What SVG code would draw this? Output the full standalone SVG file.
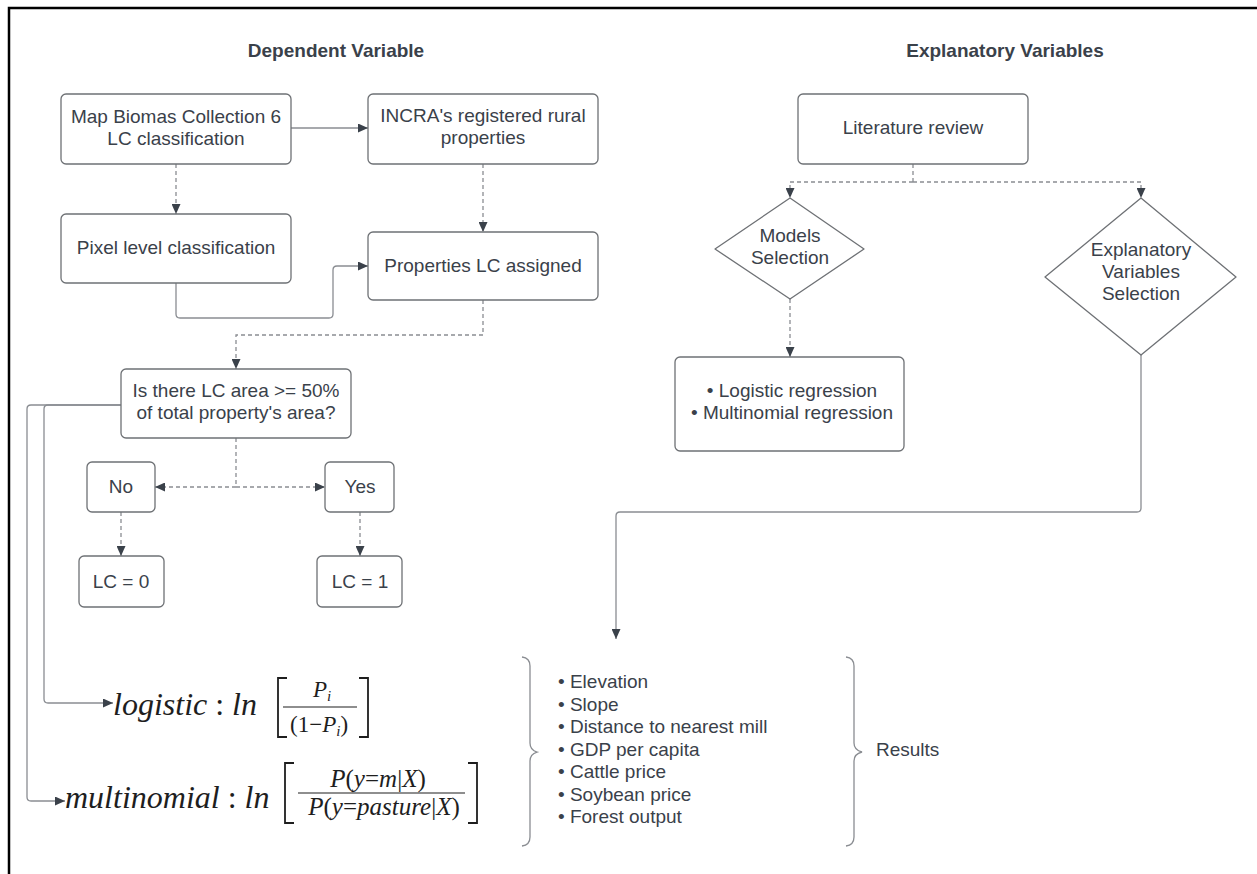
<svg xmlns="http://www.w3.org/2000/svg" width="1257" height="874" viewBox="0 0 1257 874">
<style>
.box{fill:#fff;stroke:#6e7175;stroke-width:1.3}
.t{font-family:"Liberation Sans",Arial,sans-serif;font-size:19px;fill:#3a414a}
.mid{text-anchor:middle}
.h{font-weight:bold}
.c{fill:none;stroke:#8a8d92;stroke-width:1.3}
.d{stroke-dasharray:4 3}
.a{marker-end:url(#arr)}
.m{font-family:"Liberation Serif","Times New Roman",serif;font-style:italic;fill:#1e1e1e}
.u{font-style:normal}
.br{fill:none;stroke:#1e1e1e;stroke-width:1.8}
.brace{fill:none;stroke:#8a8d92;stroke-width:1.3}
</style>
<defs>
<marker id="arr" markerWidth="11" markerHeight="9" refX="10" refY="4.5" orient="auto" markerUnits="userSpaceOnUse">
<path d="M0,0 L10,4.5 L0,9 z" fill="#3a414a"/>
</marker>
</defs>
<rect width="1257" height="874" fill="#fff"/>
<path d="M9,874 V8 H1257" fill="none" stroke="#000" stroke-width="2.5"/>

<g id="titles">
<text class="t h mid" x="336" y="57">Dependent Variable</text>
<text class="t h mid" x="1005" y="57">Explanatory Variables</text>
</g>

<g id="connectors">
<path class="c a" d="M291,128 H368"/>
<path class="c d a" d="M176,164 V214"/>
<path class="c d a" d="M483,164 V232"/>
<path class="c a" d="M176,283 V314 Q176,318 180,318 H329 Q333,318 333,314 V270 Q333,266 337,266 H368"/>
<path class="c d a" d="M483,300 V335 H236 V369"/>
<path class="c d" d="M236,438 V487"/>
<path class="c d a" d="M236,487 H155"/>
<path class="c d a" d="M236,487 H325"/>
<path class="c d a" d="M121,512 V556"/>
<path class="c d a" d="M360,512 V556"/>
<path class="c a" d="M121,405 H48 Q44,405 44,409 V699 Q44,703 48,703 H113"/>
<path class="c a" d="M121,405 H31 Q27,405 27,409 V797 Q27,801 31,801 H65"/>
<path class="c d" d="M913,164 V182"/>
<path class="c d a" d="M913,182 H790 V198"/>
<path class="c d a" d="M913,182 H1141 V198"/>
<path class="c d a" d="M790,299 V357"/>
<path class="c a" d="M1141,355 V508 Q1141,512 1137,512 H620 Q616,512 616,516 V639"/>
</g>

<g id="map-biomas">
<rect class="box" x="61" y="94" width="230" height="70" rx="5"/>
<text class="t mid" x="176" y="123">Map Biomas Collection 6</text>
<text class="t mid" x="176" y="145">LC classification</text>
</g>
<g id="incra">
<rect class="box" x="368" y="94" width="230" height="70" rx="5"/>
<text class="t mid" x="483" y="122">INCRA's registered rural</text>
<text class="t mid" x="483" y="144">properties</text>
</g>
<g id="pixel">
<rect class="box" x="61" y="214" width="230" height="69" rx="5"/>
<text class="t mid" x="176" y="254">Pixel level classification</text>
</g>
<g id="properties">
<rect class="box" x="368" y="232" width="230" height="68" rx="5"/>
<text class="t mid" x="483" y="272">Properties LC assigned</text>
</g>
<g id="question">
<rect class="box" x="121" y="369" width="230" height="69" rx="5"/>
<text class="t mid" x="236" y="397">Is there LC area &gt;= 50%</text>
<text class="t mid" x="236" y="419">of total property's area?</text>
</g>
<g id="no">
<rect class="box" x="87" y="462" width="68" height="50" rx="5"/>
<text class="t mid" x="121" y="493">No</text>
</g>
<g id="yes">
<rect class="box" x="325" y="462" width="69" height="50" rx="5"/>
<text class="t mid" x="360" y="493">Yes</text>
</g>
<g id="lc0">
<rect class="box" x="79" y="556" width="85" height="51" rx="5"/>
<text class="t mid" x="121" y="588">LC = 0</text>
</g>
<g id="lc1">
<rect class="box" x="317" y="556" width="85" height="51" rx="5"/>
<text class="t mid" x="360" y="588">LC = 1</text>
</g>

<g id="logistic-formula">
<text class="m" x="113" y="715" font-size="32">logistic <tspan class="u">:</tspan> ln</text>
<path class="br" d="M287,678 H278 V737 H287"/>
<text class="m" x="313" y="697" font-size="23">P<tspan font-size="15" dy="4">i</tspan></text>
<line x1="283" y1="707" x2="357" y2="707" stroke="#1e1e1e" stroke-width="1.2"/>
<text class="m" x="290" y="732" font-size="23"><tspan class="u">(1−</tspan>P<tspan font-size="15" dy="4">i</tspan><tspan class="u" dy="-4">)</tspan></text>
<path class="br" d="M359,678 H368 V737 H359"/>
</g>

<g id="multinomial-formula">
<text class="m" x="65" y="808" font-size="32">multinomial <tspan class="u">:</tspan> ln</text>
<path class="br" d="M294,763 H285 V823 H294"/>
<text class="m mid" x="378" y="787" font-size="25">P<tspan class="u">(</tspan>y<tspan class="u">=</tspan>m<tspan class="u">|</tspan>X<tspan class="u">)</tspan></text>
<line x1="298" y1="793" x2="465" y2="793" stroke="#1e1e1e" stroke-width="1.2"/>
<text class="m mid" x="384" y="815" font-size="25">P<tspan class="u">(</tspan>y<tspan class="u">=</tspan>pasture<tspan class="u">|</tspan>X<tspan class="u">)</tspan></text>
<path class="br" d="M468,763 H477 V823 H468"/>
</g>

<g id="literature">
<rect class="box" x="798" y="94" width="230" height="70" rx="5"/>
<text class="t mid" x="913" y="134">Literature review</text>
</g>
<g id="models">
<path class="box" stroke-linejoin="round" d="M790,198 L864,249 L790,299 L715,249 Z"/>
<text class="t mid" x="790" y="242">Models</text>
<text class="t mid" x="790" y="264">Selection</text>
</g>
<g id="explanatory">
<path class="box" stroke-linejoin="round" d="M1141,198 L1236,277 L1141,355 L1045,277 Z"/>
<text class="t mid" x="1141" y="256">Explanatory</text>
<text class="t mid" x="1141" y="278">Variables</text>
<text class="t mid" x="1141" y="300">Selection</text>
</g>
<g id="regression">
<rect class="box" x="675" y="357" width="229" height="94" rx="5"/>
<text class="t mid" x="792" y="397">• Logistic regression</text>
<text class="t mid" x="792" y="419">• Multinomial regression</text>
</g>

<g id="variables-list">
<path class="brace" d="M522,657 Q530,658 530,666 V743 Q530,750 537,752 Q530,754 530,761 V837 Q530,845 522,846"/>
<text class="t" x="558" y="688">• Elevation</text>
<text class="t" x="558" y="710.5">• Slope</text>
<text class="t" x="558" y="733">• Distance to nearest mill</text>
<text class="t" x="558" y="755.5">• GDP per capita</text>
<text class="t" x="558" y="778">• Cattle price</text>
<text class="t" x="558" y="800.5">• Soybean price</text>
<text class="t" x="558" y="823">• Forest output</text>
<path class="brace" d="M846,657 Q854,658 854,666 V743 Q854,750 862,752 Q854,754 854,761 V837 Q854,845 846,846"/>
</g>
<g id="results">
<text class="t" x="876" y="756">Results</text>
</g>
</svg>
